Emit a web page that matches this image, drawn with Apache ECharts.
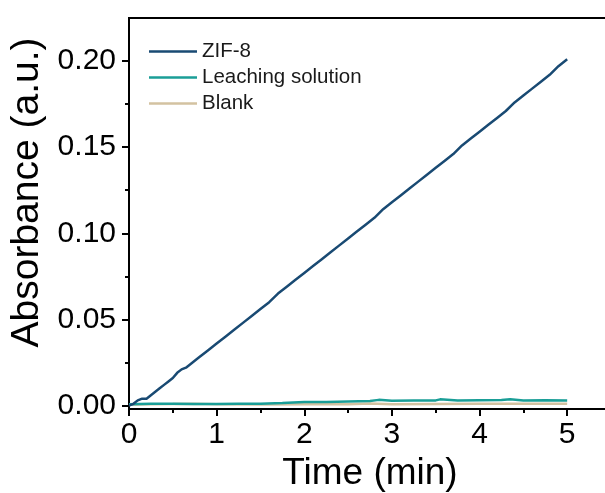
<!DOCTYPE html>
<html>
<head>
<meta charset="utf-8">
<script src="https://cdn.jsdelivr.net/npm/echarts@6/dist/echarts.min.js"></script>
<style>html,body{margin:0;padding:0;background:#fff}#c{width:605px;height:493px}</style>
</head>
<body>
<div id="c"></div>
<script>
const seriesNames = ['ZIF-8', 'Leaching solution', 'Blank'];
const zifTime = [0, 0.05, 0.1, 0.15, 0.2, 0.25, 0.3, 0.35, 0.4, 0.45, 0.5, 0.55, 0.6, 0.65, 0.7, 0.75, 0.8, 0.9, 1.0, 1.1, 1.2, 1.3, 1.4, 1.5, 1.6, 1.7, 1.8, 1.9, 2.0, 2.1, 2.2, 2.3, 2.4, 2.5, 2.6, 2.7, 2.8, 2.9, 3.0, 3.1, 3.2, 3.3, 3.4, 3.5, 3.6, 3.7, 3.8, 3.9, 4.0, 4.1, 4.2, 4.3, 4.4, 4.5, 4.6, 4.7, 4.8, 4.9, 5.0];
const zifAbs = [0.000, 0.001, 0.003, 0.004, 0.004, 0.006, 0.008, 0.010, 0.012, 0.014, 0.016, 0.019, 0.021, 0.022, 0.024, 0.026, 0.028, 0.032, 0.036, 0.040, 0.044, 0.048, 0.052, 0.056, 0.060, 0.065, 0.069, 0.073, 0.077, 0.081, 0.085, 0.089, 0.093, 0.097, 0.101, 0.105, 0.109, 0.114, 0.118, 0.122, 0.126, 0.130, 0.134, 0.138, 0.142, 0.146, 0.151, 0.155, 0.159, 0.163, 0.167, 0.171, 0.176, 0.180, 0.184, 0.188, 0.192, 0.197, 0.201];
const leachTime = [0, 0.25, 0.5, 0.75, 1.0, 1.25, 1.5, 1.75, 2.0, 2.25, 2.5, 2.75, 2.85, 3.0, 3.25, 3.5, 3.55, 3.75, 4.0, 4.25, 4.35, 4.5, 4.75, 5.0];
const leachAbs = [0.0008, 0.0010, 0.0010, 0.0009, 0.0009, 0.0010, 0.0011, 0.0015, 0.0020, 0.0021, 0.0024, 0.0026, 0.0033, 0.0028, 0.0029, 0.0030, 0.0036, 0.0030, 0.0031, 0.0032, 0.0037, 0.0030, 0.0031, 0.0030];
const blankTime = [0, 0.25, 0.5, 0.75, 1.0, 1.5, 2.0, 2.5, 2.75, 3.0, 3.5, 4.0, 4.5, 5.0];
const blankAbs = [0.0005, 0.0008, 0.0009, 0.0011, 0.0008, 0.0006, 0.0007, 0.0008, 0.0012, 0.0008, 0.0009, 0.0010, 0.0011, 0.0010];
const xTicks = [0, 1, 2, 3, 4, 5];
const xMinorTicks = [0.5, 1.5, 2.5, 3.5, 4.5];
const yTicks = [0, 0.05, 0.10, 0.15, 0.20];
const yMinorTicks = [0.025, 0.075, 0.125, 0.175];
const colors = ['#194a73', '#1a9e97', '#d3c2a1'];

const pair = (t, v) => t.map((x, i) => [x, v[i]]);
const font = '"Liberation Sans", Arial, sans-serif';

const chart = echarts.init(document.getElementById('c'), null, {renderer: 'canvas'});
const baseX = {type: 'value', min: 0, max: 5.5, gridIndex: 0, position: 'bottom'};
const baseY = {type: 'value', min: -0.002, max: 0.225, gridIndex: 0, position: 'left'};
chart.setOption({
  animation: false,
  backgroundColor: '#fff',
  grid: {left: 129, top: 18, width: 482, bottom: 84, outerBoundsMode: 'none', containLabel: false, show: true, borderColor: '#000', borderWidth: 2, backgroundColor: 'transparent'},
  legend: {
    orient: 'vertical', left: 144, top: 36, itemWidth: 48, itemHeight: 14, itemGap: 5,
    icon: 'path://M0,6 L48,6 L48,8.5 L0,8.5 Z',
    textStyle: {fontFamily: font, fontSize: 20.5, lineHeight: 21, color: '#1a1a1a'},
    data: seriesNames
  },
  xAxis: [
    Object.assign({}, baseX, {
      name: 'Time (min)', nameLocation: 'middle', nameGap: 43,
      nameTextStyle: {fontFamily: font, fontSize: 37, color: '#000'},
      axisLine: {show: true, onZero: false, lineStyle: {color: '#000', width: 2}},
      axisTick: {show: true, inside: false, length: 7, lineStyle: {width: 2, color: '#000'}, customValues: xTicks},
      axisLabel: {fontFamily: font, fontSize: 30, color: '#000', margin: 11, customValues: xTicks, formatter: v => String(v)},
      splitLine: {show: false}
    }),
    Object.assign({}, baseX, {
      axisLine: {show: false, onZero: false},
      axisTick: {show: true, inside: false, length: 4, lineStyle: {width: 2, color: '#000'}, customValues: xMinorTicks},
      axisLabel: {show: false, customValues: xMinorTicks},
      splitLine: {show: false}
    })
  ],
  yAxis: [
    Object.assign({}, baseY, {
      name: 'Absorbance (a.u.)', nameLocation: 'middle', nameGap: 70,
      nameTextStyle: {fontFamily: font, fontSize: 39, color: '#000', padding: [0, 0, 0, 42]},
      axisLine: {show: true, onZero: false, lineStyle: {color: '#000', width: 2}},
      axisTick: {show: true, inside: false, length: 7, lineStyle: {width: 2, color: '#000'}, customValues: yTicks},
      axisLabel: {fontFamily: font, fontSize: 30, color: '#000', margin: 13, customValues: yTicks, formatter: v => v.toFixed(2)},
      splitLine: {show: false}
    }),
    Object.assign({}, baseY, {
      axisLine: {show: false, onZero: false},
      axisTick: {show: true, inside: false, length: 4, lineStyle: {width: 2, color: '#000'}, customValues: yMinorTicks},
      axisLabel: {show: false, customValues: yMinorTicks},
      splitLine: {show: false}
    })
  ],
  series: [
    {name: seriesNames[2], type: 'line', data: pair(blankTime, blankAbs), showSymbol: false, symbol: 'none', lineStyle: {color: colors[2], width: 2.5}, itemStyle: {color: colors[2]}, z: 2},
    {name: seriesNames[1], type: 'line', data: pair(leachTime, leachAbs), showSymbol: false, symbol: 'none', lineStyle: {color: colors[1], width: 2.5}, itemStyle: {color: colors[1]}, z: 3},
    {name: seriesNames[0], type: 'line', data: pair(zifTime, zifAbs), showSymbol: false, symbol: 'none', lineStyle: {color: colors[0], width: 2.5}, itemStyle: {color: colors[0]}, z: 4}
  ]
});
</script>
</body>
</html>
